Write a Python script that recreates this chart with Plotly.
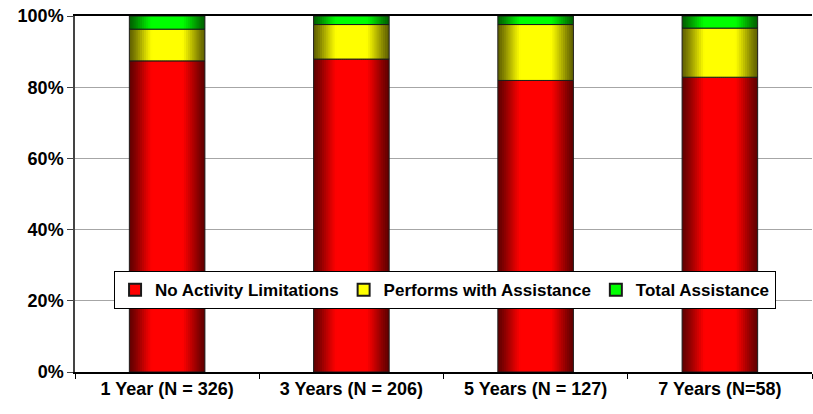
import math
import plotly.graph_objects as go

# Share of patients by activity level at each follow-up point (percent)
categories = ["1 Year (N = 326)", "3 Years (N = 206)", "5 Years (N = 127)", "7 Years (N=58)"]
no_limitations = [87.4, 87.9, 81.9, 82.8]
with_assistance = [8.9, 9.7, 15.7, 13.8]
total_assistance = [3.7, 2.4, 2.4, 3.4]

series_names = ["No Activity Limitations", "Performs with Assistance", "Total Assistance"]
series_values = [no_limitations, with_assistance, total_assistance]
series_rgb = [(255, 0, 0), (255, 255, 0), (0, 255, 0)]

BAR_W = 0.41
SLICES = 36
FONT = "Liberation Sans, Arial, sans-serif"
FS = 18


def shade(rgb, u):
    # cylinder-like shading: dark at both edges, full colour near the middle
    t = min(1.0, 1.25 * math.sin(math.pi * u)) ** 1.3
    f = 0.38 + 0.62 * t
    return "rgb({},{},{})".format(*(int(round(c * f)) for c in rgb))


fig = go.Figure()

bases = [0.0] * len(categories)
for name, vals, rgb in zip(series_names, series_values, series_rgb):
    step = BAR_W / SLICES
    for k in range(SLICES):
        start = -BAR_W / 2 + k * step
        width = min(step * 1.6, BAR_W / 2 - start)
        fig.add_trace(go.Bar(
            x=categories, y=vals, base=bases,
            offset=start, width=width,
            marker=dict(color=shade(rgb, (k + 0.5) / SLICES), line=dict(width=0)),
            showlegend=False, hoverinfo="skip",
        ))
    # outline of each stacked segment
    fig.add_trace(go.Bar(
        x=categories, y=vals, base=bases,
        offset=-BAR_W / 2, width=BAR_W,
        marker=dict(color="rgba(0,0,0,0)", line=dict(color="#1a1a1a", width=1)),
        showlegend=False, name=name,
    ))
    # legend swatch
    fig.add_trace(go.Bar(
        x=[categories[0]], y=[None], name=name,
        marker=dict(color=shade(rgb, 0.5), line=dict(color="#1a1a1a", width=1)),
        showlegend=True,
    ))
    bases = [b + v for b, v in zip(bases, vals)]

fig.update_layout(
    width=813, height=414,
    margin=dict(l=75, r=1, t=16, b=42),
    barmode="overlay",
    plot_bgcolor="white", paper_bgcolor="white",
    font=dict(family=FONT, size=FS, color="black"),
    legend=dict(
        orientation="h",
        x=0.053, y=0.283, xanchor="left", yanchor="top",
        bgcolor="white", bordercolor="black", borderwidth=1,
        font=dict(family=FONT, size=17, color="black", weight="bold"),
        itemsizing="constant",
    ),
)

fig.update_xaxes(
    type="category",
    showline=True, linecolor="black", linewidth=1.5, mirror=True,
    ticks="outside", tickson="boundaries", ticklen=5, tickcolor="black",
    tickfont=dict(family=FONT, size=FS, color="black", weight="bold"),
    showgrid=False,
)
fig.update_yaxes(
    range=[0, 100], tickvals=[0, 20, 40, 60, 80, 100],
    ticktext=["0%", "20%", "40%", "60%", "80%", "100%"],
    showline=True, linecolor="#444444", linewidth=1.5,
    ticks="outside", ticklen=6, tickcolor="#444444",
    tickfont=dict(family=FONT, size=FS, color="black", weight="bold"),
    showgrid=True, gridcolor="#a6a6a6", gridwidth=1,
    zeroline=False,
)

fig.write_html("out.html")
